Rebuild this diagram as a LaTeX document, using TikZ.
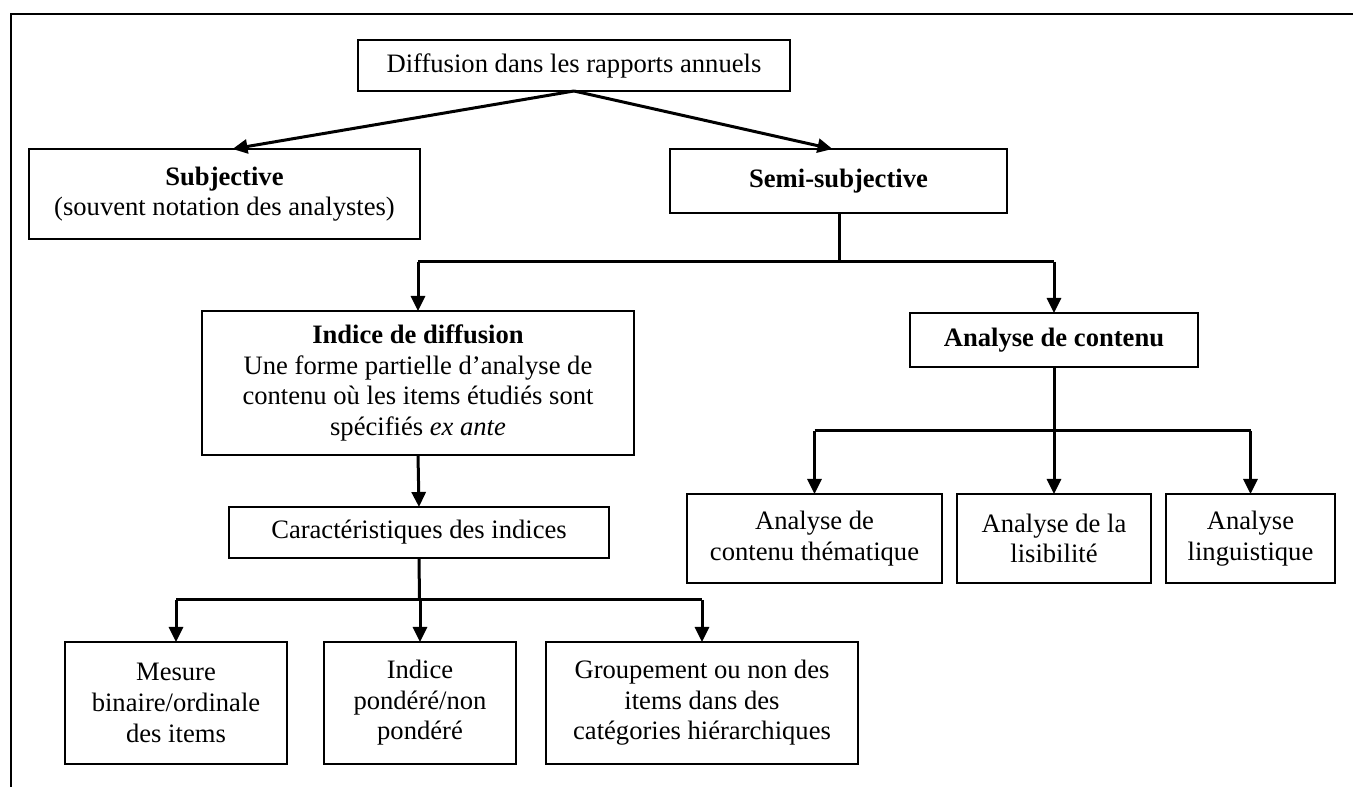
\documentclass[tikz,border=0pt]{standalone}
\usepackage{fontspec}
\setmainfont{Liberation Serif}
\usetikzlibrary{arrows.meta}
\begin{document}
\begin{tikzpicture}[x=1pt,y=1pt,
  box/.style={draw, line width=2pt, inner sep=0pt, outer sep=0pt, align=center,
    font=\fontsize{26.6}{30.6}\selectfont},
  conn/.style={line width=3pt},
  arr/.style={conn, -{Triangle[width=14pt,length=15pt]}},
  frame/.style={line width=2pt}]
\useasboundingbox (0,0) rectangle (1353,787);
% outer frame (top and left only)
\draw[frame] (11,0) -- (11,773) -- (1353,773);

% nodes
\node[box, minimum width=432pt, minimum height=51pt] (top) at (574,721.5)
  {Diffusion dans les rapports annuels};
\node[box, minimum width=391pt, minimum height=90pt] (subj) at (224.5,593)
  {\textbf{Subjective}\\(souvent notation des analystes)};
\node[box, minimum width=337pt, minimum height=64pt] (semi) at (838.5,606)
  {\textbf{Semi-subjective}};
\node[box, minimum width=432pt, minimum height=144pt] (indice) at (418,404)
  {\textbf{Indice de diffusion}\\Une forme partielle d’analyse de\\contenu où les items étudiés sont\\spécifiés \textit{ex ante}};
\node[box, minimum width=288pt, minimum height=54pt] (contenu) at (1054,447)
  {\textbf{Analyse de contenu}};
\node[box, minimum width=380pt, minimum height=51pt] (caract) at (419,254.5)
  {Caractéristiques des indices};
\node[box, minimum width=255pt, minimum height=89pt] (them) at (814.5,248.5)
  {Analyse de\\contenu thématique};
\node[box, minimum width=194pt, minimum height=89pt] (lisib) at (1054,248.5)
  {Analyse de la\\lisibilité};
\node[box, minimum width=169pt, minimum height=89pt] (ling) at (1250.5,248.5)
  {Analyse\\linguistique};
\node[box, minimum width=222pt, minimum height=122pt] (mesure) at (176,84)
  {Mesure\\binaire/ordinale\\des items};
\node[box, minimum width=192pt, minimum height=122pt] (pond) at (420,84)
  {Indice\\pondéré/non\\pondéré};
\node[box, minimum width=312pt, minimum height=122pt] (group) at (702,84)
  {Groupement ou non des\\items dans des\\catégories hiérarchiques};

% junction levels
\coordinate (j1) at (839,525);
\coordinate (j2) at (1054,356);
\coordinate (j3) at (419.5,187);

% connectors
\draw[arr] (top.south) -- ([xshift=8pt]subj.north);
\draw[arr] (top.south) -- ([xshift=-6pt]semi.north);

\draw[conn] (semi.south -| j1) -- (j1);
\draw[conn] (indice.north |- j1) -- (contenu.north |- j1);
\draw[arr] (indice.north |- j1) -- (indice.north);
\draw[arr] (contenu.north |- j1) -- (contenu.north);

\draw[conn] (contenu.south) -- (j2);
\draw[conn] (them.north |- j2) -- (ling.north |- j2);
\draw[arr] (them.north |- j2) -- (them.north);
\draw[arr] (lisib.north |- j2) -- (lisib.north);
\draw[arr] (ling.north |- j2) -- (ling.north);

\draw[arr] (indice.south) -- (caract.north);

\draw[conn] (caract.south) -- (j3);
\draw[conn] (mesure.north |- j3) -- (group.north |- j3);
\draw[arr] (mesure.north |- j3) -- (mesure.north);
\draw[arr] (pond.north |- j3) -- (pond.north);
\draw[arr] (group.north |- j3) -- (group.north);
\end{tikzpicture}
\end{document}
